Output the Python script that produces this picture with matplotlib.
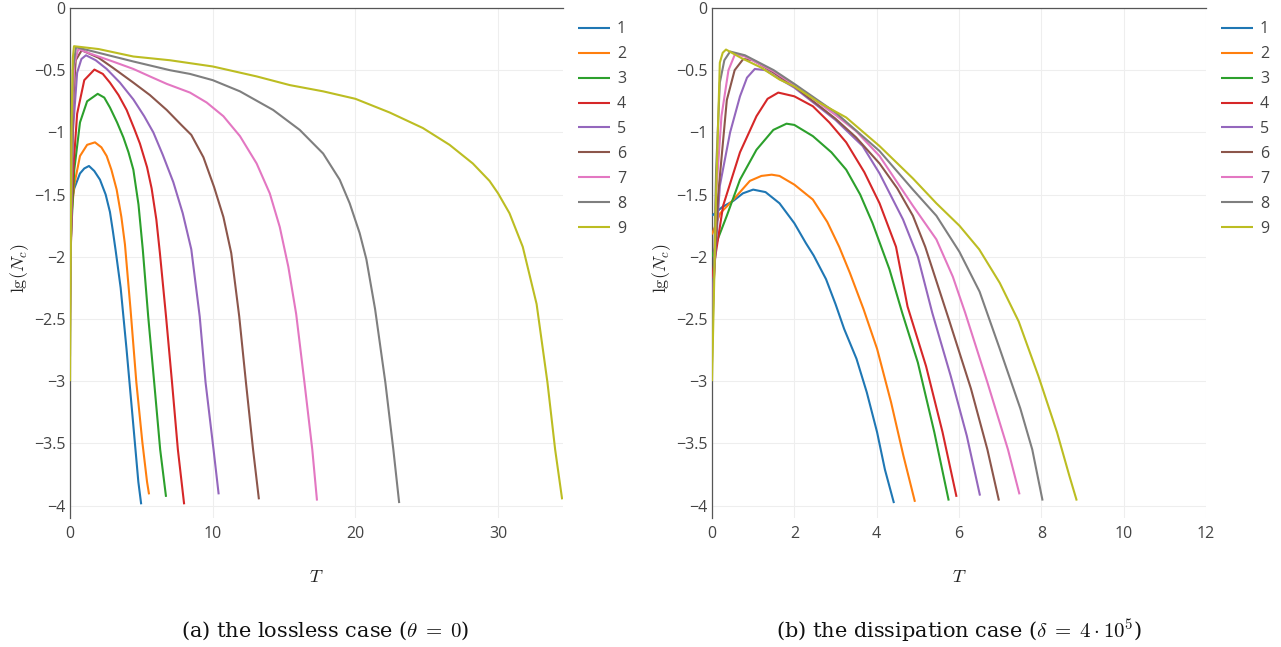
import matplotlib
matplotlib.use("Agg")
import matplotlib.pyplot as plt
from matplotlib.ticker import FixedLocator, FuncFormatter

# ---------------- data ----------------
series_labels = ["1", "2", "3", "4", "5", "6", "7", "8", "9"]
colors = ["#1f77b4", "#ff7f0e", "#2ca02c", "#d62728", "#9467bd",
          "#8c564b", "#e377c2", "#7f7f7f", "#bcbd22"]

# (a) lossless case: (T, lg Nc)
lossless_1 = [(0, -1.62), (0.3, -1.45), (0.7, -1.33), (1.0, -1.29), (1.33, -1.27), (1.7, -1.31),
              (2.1, -1.38), (2.5, -1.5), (2.8, -1.64), (3.0, -1.79), (3.2, -1.95), (3.55, -2.25),
              (3.96, -2.74), (4.38, -3.28), (4.79, -3.81), (4.99, -3.99)]
lossless_2 = [(0, -1.8), (0.3, -1.42), (0.7, -1.19), (1.2, -1.10), (1.75, -1.08), (2.2, -1.12),
              (2.57, -1.19), (2.9, -1.3), (3.27, -1.46), (3.6, -1.68), (3.85, -1.9), (4.24, -2.42),
              (4.65, -3.01), (5.07, -3.49), (5.40, -3.81), (5.54, -3.91)]
lossless_3 = [(0, -2.0), (0.3, -1.3), (0.7, -0.92), (1.2, -0.75), (1.94, -0.69), (2.4, -0.72),
              (2.8, -0.8), (3.3, -0.92), (3.74, -1.04), (4.1, -1.16), (4.44, -1.3), (4.8, -1.58),
              (5.1, -1.94), (5.48, -2.48), (5.90, -3.01), (6.32, -3.55), (6.73, -3.93)]
lossless_4 = [(0, -2.15), (0.2, -1.35), (0.5, -0.85), (1.0, -0.58), (1.71, -0.495), (2.3, -0.53),
              (2.8, -0.60), (3.4, -0.7), (3.97, -0.82), (4.5, -0.97), (4.9, -1.09), (5.4, -1.28),
              (5.72, -1.45), (6.05, -1.7), (6.3, -1.97), (6.73, -2.48), (7.15, -3.01), (7.56, -3.55),
              (8.0, -3.99)]
lossless_5 = [(0, -2.3), (0.2, -1.0), (0.5, -0.52), (0.8, -0.41), (1.12, -0.38), (1.8, -0.42),
              (2.57, -0.49), (3.5, -0.6), (4.44, -0.735), (5.2, -0.87), (5.84, -1.0), (6.5, -1.18),
              (7.24, -1.40), (7.9, -1.65), (8.5, -1.94), (9.09, -2.48), (9.50, -3.01), (10.06, -3.55),
              (10.42, -3.91)]
lossless_6 = [(0, -2.45), (0.2, -0.8), (0.4, -0.42), (0.82, -0.34), (2.0, -0.40), (3.0, -0.48),
              (4.44, -0.60), (5.6, -0.70), (6.78, -0.82), (7.8, -0.94), (8.5, -1.02), (9.35, -1.2),
              (10.1, -1.44), (10.75, -1.68), (11.3, -1.97), (11.86, -2.48), (12.33, -3.01),
              (12.83, -3.55), (13.24, -3.95)]
lossless_7 = [(0, -2.6), (0.15, -0.9), (0.3, -0.45), (0.58, -0.33), (1.5, -0.37), (3.0, -0.43),
              (4.44, -0.49), (5.6, -0.55), (6.78, -0.61), (8.41, -0.68), (9.58, -0.76), (10.75, -0.87),
              (11.91, -1.03), (13.08, -1.25), (14.0, -1.49), (14.7, -1.76), (15.3, -2.08),
              (15.85, -2.46), (16.43, -3.01), (16.98, -3.55), (17.31, -3.96)]
lossless_8 = [(0, -2.8), (0.1, -1.2), (0.2, -0.5), (0.42, -0.315), (2.0, -0.36), (4.44, -0.43),
              (7.0, -0.5), (8.41, -0.53), (10.0, -0.58), (11.91, -0.67), (14.24, -0.82), (16.1, -0.98),
              (17.74, -1.17), (18.9, -1.38), (19.6, -1.57), (20.3, -1.81), (20.77, -2.02),
              (21.38, -2.42), (22.1, -3.01), (22.66, -3.55), (23.07, -3.98)]
lossless_9 = [(0, -3.0), (0.1, -1.0), (0.2, -0.4), (0.28, -0.307), (2.0, -0.33), (4.44, -0.39),
              (7.0, -0.42), (10.0, -0.47), (13.08, -0.55), (15.41, -0.62), (17.74, -0.67), (20.0, -0.73),
              (22.4, -0.84), (24.73, -0.965), (26.6, -1.10), (28.23, -1.25), (29.4, -1.39),
              (30.0, -1.49), (30.8, -1.65), (31.73, -1.92), (32.7, -2.38), (33.46, -3.01),
              (34.0, -3.55), (34.49, -3.95)]

# (b) dissipation case: (T, lg Nc)
dissipation_1 = [(0, -1.67), (0.25, -1.6), (0.52, -1.55), (0.75, -1.49), (1.0, -1.46), (1.3, -1.48),
                 (1.64, -1.57), (2.0, -1.73), (2.28, -1.89), (2.47, -1.99), (2.77, -2.18), (3.0, -2.38),
                 (3.21, -2.58), (3.51, -2.82), (3.76, -3.09), (4.01, -3.41), (4.2, -3.71), (4.42, -3.98)]
dissipation_2 = [(0, -1.82), (0.2, -1.65), (0.52, -1.54), (0.92, -1.39), (1.2, -1.35), (1.45, -1.34),
                 (1.64, -1.35), (2.0, -1.42), (2.45, -1.54), (2.8, -1.72), (3.09, -1.92), (3.35, -2.13),
                 (3.68, -2.42), (4.01, -2.74), (4.35, -3.17), (4.65, -3.6), (4.93, -3.97)]
dissipation_3 = [(0, -2.0), (0.15, -1.85), (0.36, -1.67), (0.68, -1.38), (1.08, -1.14), (1.49, -0.98),
                 (1.81, -0.93), (2.0, -0.94), (2.45, -1.03), (2.9, -1.16), (3.26, -1.30), (3.6, -1.5),
                 (3.9, -1.73), (4.31, -2.1), (4.62, -2.45), (5.0, -2.85), (5.4, -3.41), (5.75, -3.96)]
dissipation_4 = [(0, -2.17), (0.27, -1.59), (0.68, -1.16), (1.08, -0.87), (1.35, -0.73), (1.61, -0.68),
                 (2.0, -0.71), (2.45, -0.79), (2.85, -0.92), (3.26, -1.08), (3.7, -1.32), (4.07, -1.57),
                 (4.47, -1.92), (4.75, -2.4), (5.2, -2.88), (5.6, -3.41), (5.94, -3.93)]
dissipation_5 = [(0, -2.4), (0.19, -1.43), (0.44, -1.0), (0.68, -0.71), (0.85, -0.56), (1.04, -0.49),
                 (1.3, -0.5), (1.64, -0.57), (2.0, -0.64), (2.5, -0.77), (3.0, -0.9), (3.66, -1.11),
                 (4.07, -1.33), (4.64, -1.70), (5.0, -2.0), (5.35, -2.45), (5.8, -2.96), (6.19, -3.44),
                 (6.51, -3.92)]
dissipation_6 = [(0, -2.5), (0.15, -1.5), (0.36, -0.74), (0.55, -0.5), (0.76, -0.41), (1.0, -0.42),
                 (1.5, -0.52), (2.0, -0.63), (2.5, -0.76), (3.0, -0.89), (3.5, -1.04), (4.07, -1.25),
                 (4.5, -1.45), (4.88, -1.67), (5.18, -1.92), (5.75, -2.5), (6.29, -3.06), (6.69, -3.55),
                 (6.97, -3.96)]
dissipation_7 = [(0, -2.7), (0.1, -1.5), (0.23, -0.87), (0.4, -0.5), (0.56, -0.37), (0.8, -0.39),
                 (1.5, -0.51), (2.0, -0.62), (2.5, -0.74), (3.0, -0.86), (3.5, -0.99), (4.07, -1.19),
                 (4.88, -1.59), (5.45, -1.86), (5.85, -2.16), (6.15, -2.45), (6.69, -3.01),
                 (7.19, -3.55), (7.47, -3.91)]
dissipation_8 = [(0, -2.85), (0.1, -1.3), (0.19, -0.60), (0.3, -0.42), (0.44, -0.35), (0.8, -0.38),
                 (1.5, -0.5), (2.0, -0.61), (3.0, -0.84), (4.07, -1.15), (4.88, -1.46), (5.45, -1.67),
                 (6.01, -1.96), (6.5, -2.28), (6.99, -2.74), (7.49, -3.22), (7.78, -3.55), (8.03, -3.96)]
dissipation_9 = [(0, -3.0), (0.1, -1.5), (0.19, -0.44), (0.26, -0.36), (0.34, -0.334), (0.7, -0.4),
                 (1.2, -0.48), (1.64, -0.575), (2.0, -0.63), (2.6, -0.76), (3.26, -0.88), (4.07, -1.11),
                 (4.88, -1.37), (5.45, -1.57), (6.01, -1.75), (6.49, -1.94), (6.99, -2.21),
                 (7.45, -2.52), (7.93, -2.96), (8.38, -3.41), (8.68, -3.76), (8.86, -3.96)]

lossless = [lossless_1, lossless_2, lossless_3, lossless_4, lossless_5,
            lossless_6, lossless_7, lossless_8, lossless_9]
dissipation = [dissipation_1, dissipation_2, dissipation_3, dissipation_4, dissipation_5,
               dissipation_6, dissipation_7, dissipation_8, dissipation_9]

x_ticks_a = [0, 10, 20, 30]
x_ticks_b = [0, 2, 4, 6, 8, 10, 12]
y_ticks = [0, -0.5, -1, -1.5, -2, -2.5, -3, -3.5, -4]
caption_a = r"(a) the lossless case ($\theta\;=\;0$)"
caption_b = r"(b) the dissipation case ($\delta\;=\;4 \cdot 10^5$)"

# ---------------- styling ----------------
plt.rcParams["font.family"] = ["Open Sans", "DejaVu Sans"]
plt.rcParams["mathtext.fontset"] = "cm"
TICK_COLOR = "#444444"
GRID_COLOR = "#eeeeee"
TICK_SIZE = 11.5

W, H = 1281, 647
fig = plt.figure(figsize=(W / 100, H / 100), dpi=100)

def px_axes(x0, x1, y0, y1):
    return fig.add_axes([x0 / W, 1 - y1 / H, (x1 - x0) / W, (y1 - y0) / H])

def fmt(v, pos):
    s = "%g" % v
    return s.replace("-", "\u2212")

def style(ax, xmax, xticks):
    ax.set_xlim(0, xmax)
    ax.set_ylim(-4.1, 0)
    ax.xaxis.set_major_locator(FixedLocator(xticks))
    ax.yaxis.set_major_locator(FixedLocator(y_ticks))
    ax.xaxis.set_major_formatter(FuncFormatter(fmt))
    ax.yaxis.set_major_formatter(FuncFormatter(fmt))
    ax.grid(True, color=GRID_COLOR, linewidth=0.8)
    ax.set_axisbelow(True)
    for s in ["bottom", "right"]:
        ax.spines[s].set_visible(False)
    for s in ["top", "left"]:
        ax.spines[s].set_color("#555555")
        ax.spines[s].set_linewidth(0.9)
    ax.tick_params(axis="both", length=0, labelsize=TICK_SIZE, labelcolor=TICK_COLOR)
    ax.tick_params(axis="y", pad=3)
    ax.tick_params(axis="x", pad=6)

def draw(ax, data):
    for lab, col, pts in zip(series_labels, colors, data):
        t = [p[0] for p in pts]
        y = [p[1] for p in pts]
        ax.plot(t, y, color=col, linewidth=1.5, label=lab,
                solid_joinstyle="round", solid_capstyle="butt", zorder=3)
    leg = ax.legend(loc="upper left", bbox_to_anchor=(1.03, 0.974), frameon=False,
                    fontsize=TICK_SIZE, handlelength=2.0, handletextpad=0.45,
                    labelspacing=0.56, borderaxespad=0.0, borderpad=0.0)
    for txt in leg.get_texts():
        txt.set_color(TICK_COLOR)

ax1 = px_axes(70, 563, 8, 518)
draw(ax1, lossless)
style(ax1, 34.55, x_ticks_a)

ax2 = px_axes(712, 1206, 8, 518)
draw(ax2, dissipation)
style(ax2, 12, x_ticks_b)

# axis titles
for cx, ylx in [(316.5, 20), (959, 662)]:
    fig.text(cx / W, 1 - 577 / H, r"$T$", ha="center", va="center", fontsize=13, color="#222222")
    fig.text(ylx / W, 1 - 268 / H, r"$\mathrm{lg}(N_c)$", ha="center", va="center",
             rotation=90, fontsize=13, color="#222222")

# captions
cap_kw = dict(ha="center", va="center", fontsize=15,
              family=["DejaVu Serif"], math_fontfamily="cm", color="#111111")
fig.text(325 / W, 1 - 631 / H, caption_a, **cap_kw)
fig.text(959 / W, 1 - 631 / H, caption_b, **cap_kw)

fig.savefig("out.png", dpi=100)
